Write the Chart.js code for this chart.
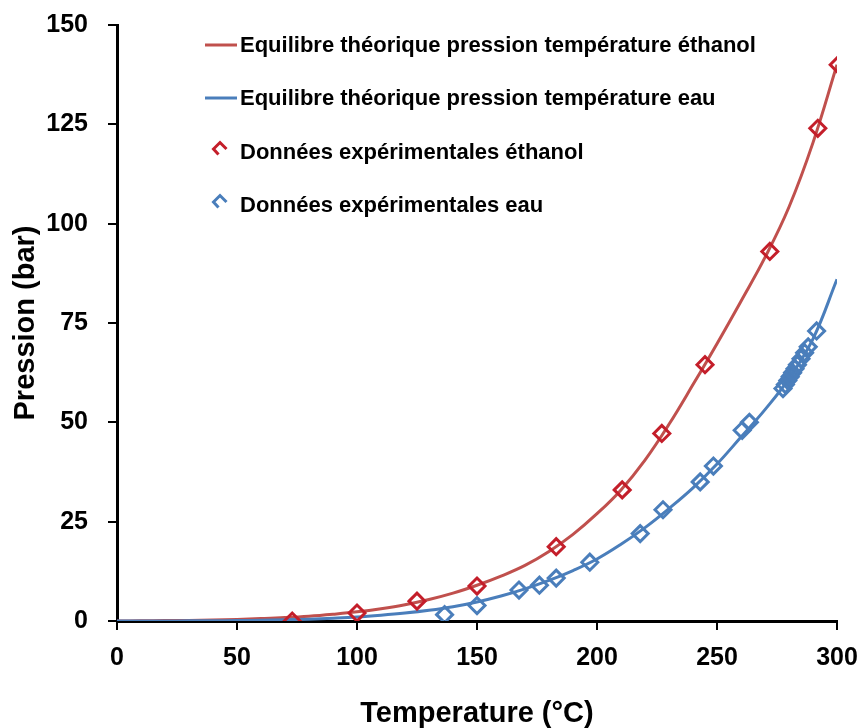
<!DOCTYPE html>
<html>
<head>
<meta charset="utf-8">
<script src="https://cdn.jsdelivr.net/npm/chart.js@4.4.1/dist/chart.umd.min.js"></script>
<style>
html,body{margin:0;padding:0;background:#ffffff;}
#wrap{width:863px;height:728px;position:relative;}
</style>
</head>
<body>
<div id="wrap"><canvas id="c" width="863" height="728"></canvas></div>
<script>
// ---- Data ----
const seriesNames = [
  'Equilibre théorique pression température éthanol',
  'Equilibre théorique pression température eau',
  'Données expérimentales éthanol',
  'Données expérimentales eau'
];
const xTitle = 'Temperature (°C)';
const yTitle = 'Pression (bar)';
const xTickValues = [0, 50, 100, 150, 200, 250, 300];
const yTickValues = [0, 25, 50, 75, 100, 125, 150];

// theoretical curves (read by eye every 10 °C from the picture)
const theoryTemps   = [0, 10, 20, 30, 40, 50, 60, 70, 80, 90, 100, 110, 120, 130, 140, 150, 160, 170, 180, 190, 200, 210, 220, 230, 240, 250, 260, 270, 280, 290, 300];
const ethanolTheory = [0, 0.05, 0.1, 0.15, 0.25, 0.4, 0.6, 0.85, 1.2, 1.7, 2.3, 3.1, 4.1, 5.4, 7.0, 9.0, 11.3, 14.0, 17.5, 21.8, 27.0, 33.0, 40.5, 49.5, 59.5, 69.8, 80.5, 91.5, 104.2, 120.4, 140];
const waterTheory   = [0, 0.01, 0.02, 0.04, 0.07, 0.12, 0.2, 0.32, 0.47, 0.7, 1.0, 1.45, 2.0, 2.7, 3.6, 4.8, 6.3, 8.1, 10.2, 12.7, 15.6, 19.3, 23.5, 28.3, 33.5, 39.5, 46.3, 53.2, 61, 71, 86];

// experimental points
const ethanolExpT = [73, 100, 125, 150, 183, 210.5, 227, 245, 272, 292, 300.5];
const ethanolExpP = [0, 2, 5, 8.8, 18.7, 33, 47.2, 64.5, 93, 124, 140];
const waterExpT = [136.5, 150, 167.5, 176, 183, 197, 218, 227.5, 243, 248.5, 260.5, 263.5, 277.5, 278.5, 279.5, 280.5, 281.5, 282.5, 283.5, 285, 286.5, 288, 291.5];
const waterExpP = [1.6, 3.9, 7.8, 9, 10.8, 14.8, 22, 28, 35, 39, 48, 50, 58.5, 59.5, 60.5, 61.5, 62.5, 63.5, 64.5, 66, 67.5, 69, 73];

// ---- Styles ----
const RED_LINE = '#C0504D';
const BLUE_LINE = '#4A7EBB';
const RED_MARK = '#C41E2A';
const BLUE_MARK = '#4A7EBB';
const FONT = '"Liberation Sans", Arial, sans-serif';

const pts = (xs, ys) => xs.map((x, i) => ({x: x, y: ys[i]}));

const legendPlugin = {
  id: 'customLegend',
  afterDraw(chart) {
    const ctx = chart.ctx;
    ctx.save();
    ctx.font = 'bold 22px ' + FONT;
    ctx.fillStyle = '#000';
    ctx.textBaseline = 'middle';
    ctx.textAlign = 'left';
    const rows = [
      {y: 45, kind: 'line', color: RED_LINE},
      {y: 98, kind: 'line', color: BLUE_LINE},
      {y: 152, kind: 'mark', color: RED_MARK},
      {y: 205, kind: 'mark', color: BLUE_MARK}
    ];
    rows.forEach((r, i) => {
      if (r.kind === 'line') {
        ctx.strokeStyle = r.color;
        ctx.lineWidth = 3;
        ctx.beginPath();
        ctx.moveTo(205, r.y);
        ctx.lineTo(237, r.y);
        ctx.stroke();
      } else {
        const cx = 220, cy = r.y - 3, s = 6.5;
        ctx.strokeStyle = r.color;
        ctx.lineWidth = 3;
        ctx.lineJoin = 'miter';
        ctx.beginPath();
        ctx.moveTo(cx - 1.5, cy + s - 1);
        ctx.lineTo(cx - s, cy);
        ctx.lineTo(cx, cy - s);
        ctx.lineTo(cx + s, cy);
        ctx.stroke();
      }
      ctx.fillText(seriesNames[i], 240, r.y + 1);
    });
    ctx.restore();
  }
};

const tickFont = {family: FONT, size: 25, weight: 'bold'};
const titleFont = {family: FONT, size: 29, weight: 'bold', lineHeight: 1};

new Chart(document.getElementById('c'), {
  type: 'scatter',
  data: {
    datasets: [
      {
        label: seriesNames[0], type: 'line',
        data: pts(theoryTemps, ethanolTheory),
        borderColor: RED_LINE, borderWidth: 3, pointRadius: 0,
        showLine: true, fill: false, tension: 0.4, order: 4
      },
      {
        label: seriesNames[1], type: 'line',
        data: pts(theoryTemps, waterTheory),
        borderColor: BLUE_LINE, borderWidth: 3, pointRadius: 0,
        showLine: true, fill: false, tension: 0.4, order: 3
      },
      {
        label: seriesNames[2],
        data: pts(ethanolExpT, ethanolExpP),
        pointStyle: 'rectRot', pointRadius: 8, borderWidth: 3,
        borderColor: RED_MARK, backgroundColor: 'rgba(0,0,0,0)', order: 2
      },
      {
        label: seriesNames[3],
        data: pts(waterExpT, waterExpP),
        pointStyle: 'rectRot', pointRadius: 8, borderWidth: 3,
        borderColor: BLUE_MARK, backgroundColor: 'rgba(0,0,0,0)', order: 1
      }
    ]
  },
  options: {
    responsive: false,
    animation: false,
    layout: {padding: {left: 0, right: 26, top: 25, bottom: 0}},
    plugins: {legend: {display: false}, tooltip: {enabled: false}},
    scales: {
      x: {
        type: 'linear', min: 0, max: 300,
        afterBuildTicks: s => { s.ticks = xTickValues.map(v => ({value: v})); },
        afterFit: s => { s.height = 107; s.paddingLeft = 0; s.paddingRight = 0; },
        ticks: {font: tickFont, color: '#000', padding: 13, maxRotation: 0},
        grid: {display: true, drawOnChartArea: false, drawTicks: true, tickLength: 9, color: '#000', lineWidth: 2},
        border: {display: true, color: '#000', width: 3},
        title: {display: true, text: xTitle, font: titleFont, color: '#000', padding: {top: 0, bottom: 0}}
      },
      y: {
        type: 'linear', min: 0, max: 150,
        afterBuildTicks: s => { s.ticks = yTickValues.map(v => ({value: v})); },
        afterFit: s => { s.width = 117; s.paddingTop = 0; s.paddingBottom = 0; },
        ticks: {font: tickFont, color: '#000', padding: 20},
        grid: {display: true, drawOnChartArea: false, drawTicks: true, tickLength: 9, color: '#000', lineWidth: 2},
        border: {display: true, color: '#000', width: 3},
        title: {display: true, text: yTitle, font: titleFont, color: '#000', padding: {top: 11, bottom: 0}}
      }
    }
  },
  plugins: [legendPlugin]
});
</script>
</body>
</html>
